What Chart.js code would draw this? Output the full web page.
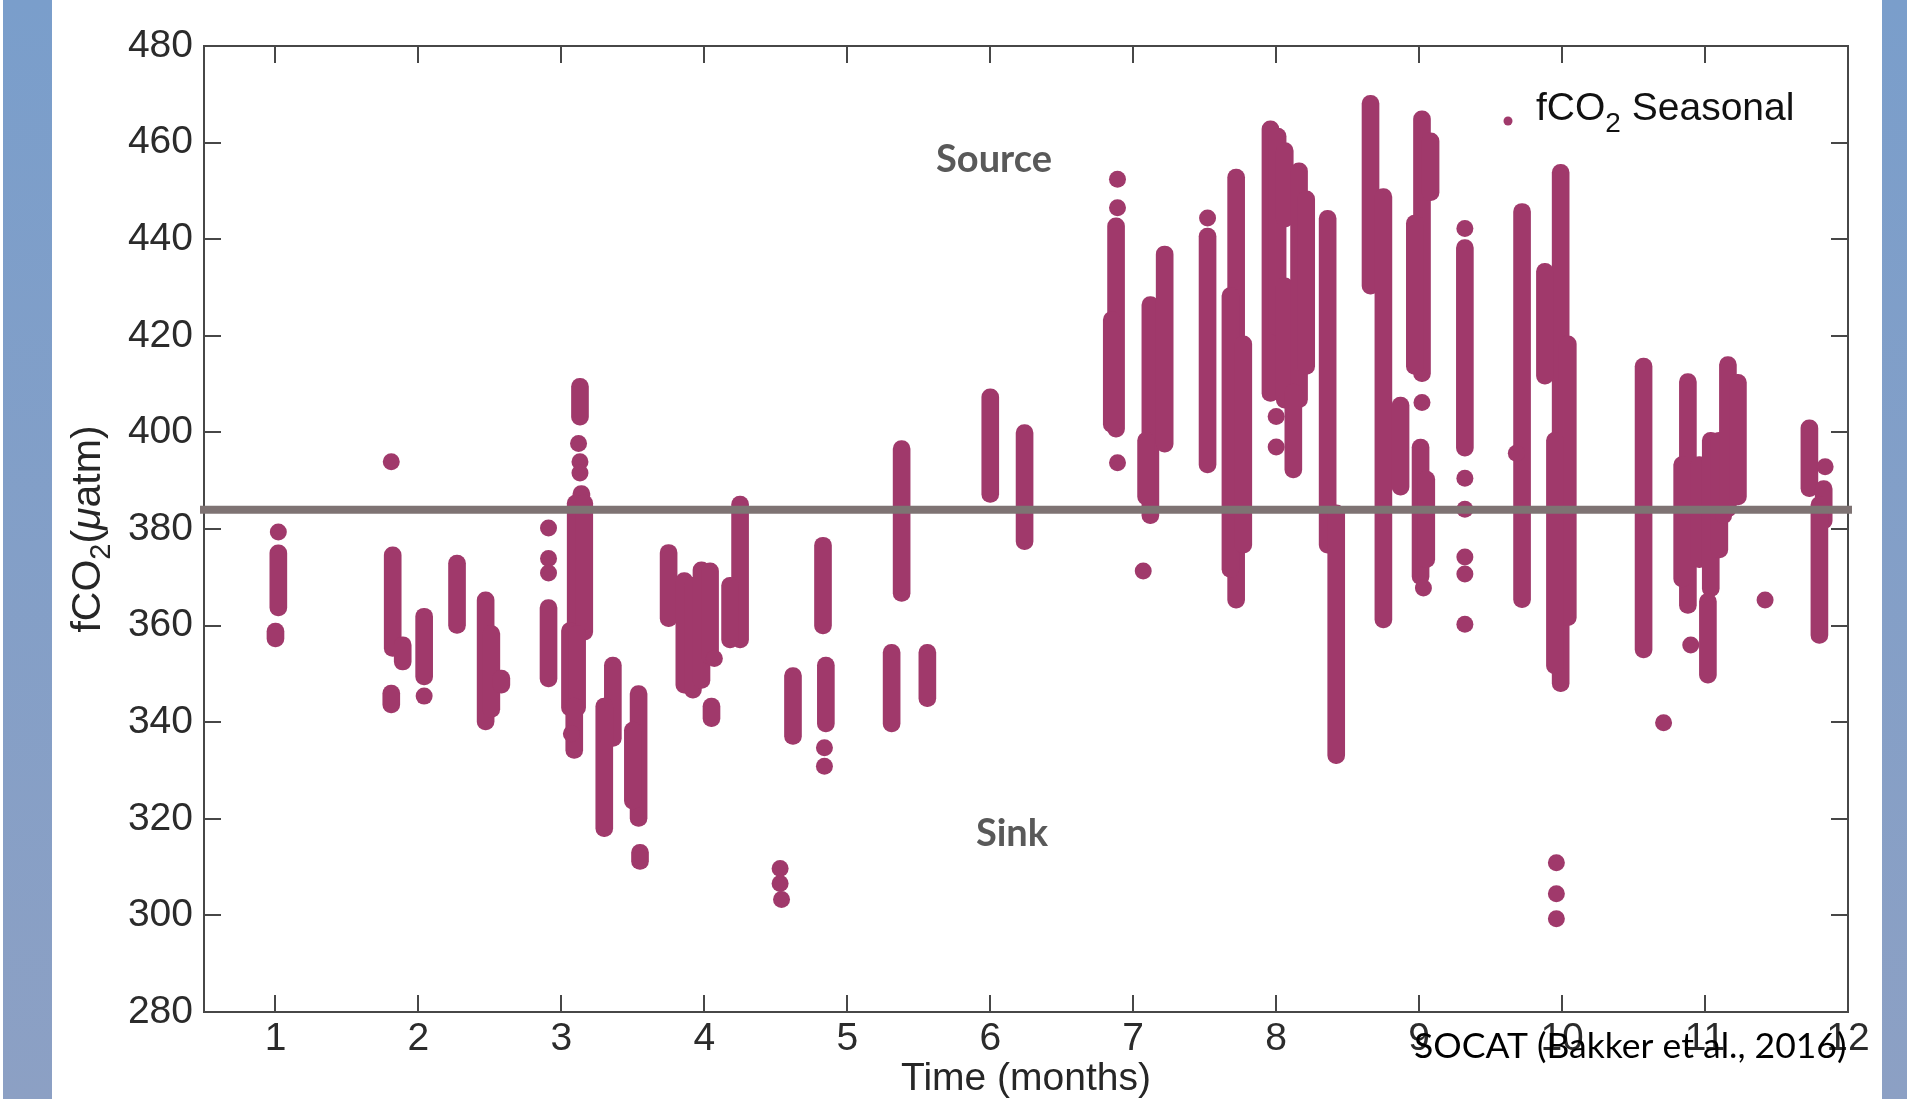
<!DOCTYPE html>
<html>
<head>
<meta charset="utf-8">
<script src="https://cdn.jsdelivr.net/npm/chart.js@4.4.1/dist/chart.umd.min.js"></script>
<style>
  html, body { margin: 0; padding: 0; background: #fff; }
  .wrap { position: relative; width: 1907px; height: 1099px; overflow: hidden; }
  .band { position: absolute; top: 0; height: 1099px; background: linear-gradient(#7a9ecb, #8ca0c4); }
  .band.left { left: 3px; width: 49px; }
  .band.right { left: 1882px; width: 25px; }
  canvas { position: absolute; left: 0; top: 0; }
</style>
</head>
<body>
<div class="wrap">
  <div class="band left"></div>
  <div class="band right"></div>
  <canvas id="fco2Chart" width="1907" height="1099"></canvas>
</div>
<script>
window.addEventListener("load", () => {
  // axis ticks
  const monthTicks = [1, 2, 3, 4, 5, 6, 7, 8, 9, 10, 11, 12];
  const fco2Ticks = [280, 300, 320, 340, 360, 380, 400, 420, 440, 460, 480];

  // continuous cruise tracks: [month, lowest fCO2, highest fCO2]
  const cruiseRanges = [
    [1.02, 362.0, 376.7], [1.00, 355.6, 360.5],
    [1.82, 353.6, 376.3], [1.89, 350.8, 357.7], [1.81, 341.9, 347.7],
    [2.04, 347.7, 363.6],
    [2.27, 358.4, 374.6],
    [2.47, 338.4, 367.0], [2.51, 341.0, 360.0], [2.58, 346.0, 350.8],
    [2.91, 347.3, 365.4],
    [3.13, 401.5, 411.2], [3.14, 385.2, 389.0],
    [3.10, 356.0, 387.0], [3.16, 357.0, 387.0],
    [3.06, 341.3, 360.6], [3.11, 341.3, 360.0], [3.09, 332.5, 345.0],
    [3.36, 335.0, 353.5], [3.30, 316.3, 345.0],
    [3.54, 318.4, 347.6], [3.50, 322.0, 340.0], [3.55, 309.5, 314.7],
    [3.75, 359.8, 376.8],
    [3.86, 346.0, 371.0], [3.92, 345.0, 370.0], [3.98, 347.0, 373.2], [4.04, 352.0, 373.0], [4.05, 339.1, 345.0],
    [4.25, 355.4, 386.8], [4.18, 355.4, 370.0],
    [4.62, 335.4, 351.3],
    [4.83, 358.3, 378.3], [4.85, 338.0, 353.5],
    [5.38, 365.0, 398.3], [5.31, 338.0, 356.1],
    [5.56, 343.2, 356.1],
    [6.00, 385.5, 409.0],
    [6.24, 375.7, 401.6],
    [6.88, 399.0, 444.4], [6.85, 400.0, 425.0],
    [7.12, 381.1, 428.1], [7.09, 385.0, 400.0],
    [7.22, 395.9, 438.6],
    [7.52, 391.6, 442.3],
    [7.72, 363.6, 454.5], [7.68, 370.0, 430.0], [7.77, 375.0, 420.0],
    [7.96, 406.4, 464.5], [8.01, 420.0, 463.0], [8.06, 442.5, 460.0], [8.06, 405.0, 432.0],
    [8.16, 405.1, 455.8], [8.12, 390.6, 410.0], [8.21, 412.0, 450.0],
    [8.36, 375.0, 446.0], [8.42, 331.4, 385.0],
    [8.66, 428.6, 469.8],
    [8.75, 359.5, 450.5],
    [8.87, 387.0, 407.3],
    [9.02, 410.5, 466.6], [9.08, 448.0, 462.0], [8.97, 412.0, 445.0], [9.01, 368.5, 398.6], [9.05, 372.0, 392.0],
    [9.32, 395.1, 439.9],
    [9.72, 363.7, 447.4],
    [9.99, 346.3, 455.5], [9.88, 410.0, 435.0], [10.04, 360.0, 420.0], [9.95, 350.0, 400.0],
    [10.57, 353.3, 415.4],
    [10.88, 362.5, 412.2], [10.84, 368.0, 395.0], [10.96, 372.0, 395.0],
    [11.04, 366.0, 400.0], [11.10, 374.0, 400.0], [11.02, 348.1, 366.7],
    [11.16, 382.5, 415.7], [11.23, 385.0, 412.0],
    [11.73, 386.7, 402.6], [11.83, 380.0, 390.0], [11.80, 356.3, 386.7],
  ];

  // isolated observations: [month, fCO2]
  const singleObs = [
    [1.02, 379.4], [1.81, 393.9], [2.04, 345.4],
    [2.91, 380.2], [2.91, 373.9], [2.91, 370.9],
    [3.12, 397.7], [3.13, 393.9], [3.13, 391.6], [3.07, 337.6],
    [4.07, 353.2],
    [4.53, 309.7], [4.53, 306.6], [4.54, 303.3],
    [4.84, 334.7], [4.84, 330.9],
    [6.89, 452.4], [6.89, 446.5], [6.89, 393.7],
    [7.07, 371.3],
    [7.52, 444.4],
    [8.00, 403.3], [8.00, 397.0],
    [9.02, 406.2], [9.03, 367.8],
    [9.32, 442.2], [9.32, 390.5], [9.32, 384.1], [9.32, 374.2], [9.32, 370.7], [9.32, 360.3],
    [9.68, 395.7],
    [9.96, 310.9], [9.96, 304.5], [9.96, 299.3],
    [10.71, 339.9],
    [10.90, 356.0], [11.13, 382.8],
    [11.42, 365.3],
    [11.84, 392.9],
  ];

  // atmospheric level separating source from sink
  const neutralLevel = 384;
  const monthRange = [0.5, 12];

  const PINK = "#a0396b";
  const SANS = "'Liberation Sans', Arial, sans-serif";
  const CALI = "Lato, 'Open Sans', sans-serif";
  const tickFont = { family: SANS, size: 39 };

  // box around the plot with inward tick marks
  const frame = {
    id: "frame",
    beforeDatasetsDraw(chart) {
      const { ctx, chartArea: a, scales: { x, y } } = chart;
      ctx.save();
      ctx.strokeStyle = "#474747";
      ctx.lineWidth = 2;
      ctx.strokeRect(a.left, a.top, a.right - a.left, a.bottom - a.top);
      ctx.beginPath();
      monthTicks.forEach((m) => {
        const px = Math.round(x.getPixelForValue(m));
        ctx.moveTo(px, a.bottom); ctx.lineTo(px, a.bottom - 17);
        ctx.moveTo(px, a.top); ctx.lineTo(px, a.top + 17);
      });
      fco2Ticks.forEach((v) => {
        const py = Math.round(y.getPixelForValue(v));
        ctx.moveTo(a.left, py); ctx.lineTo(a.left + 17, py);
        ctx.moveTo(a.right, py); ctx.lineTo(a.right - 17, py);
      });
      ctx.stroke();
      ctx.restore();
    },
  };

  // draws a run of text pieces, pieces may be lowered (subscript) or italic
  function drawRuns(ctx, runs, x, y) {
    let cx = x;
    runs.forEach((r) => {
      ctx.font = r.font;
      ctx.fillText(r.text, cx, y + (r.dy || 0));
      cx += ctx.measureText(r.text).width;
    });
  }
  function runsWidth(ctx, runs) {
    return runs.reduce((w, r) => { ctx.font = r.font; return w + ctx.measureText(r.text).width; }, 0);
  }

  const notes = {
    id: "notes",
    afterDraw(chart) {
      const { ctx, chartArea: a } = chart;
      ctx.save();
      ctx.textBaseline = "alphabetic";

      // y axis title
      const yTitle = [
        { text: "fCO", font: `41px ${SANS}` },
        { text: "2", font: `29px ${SANS}`, dy: 10 },
        { text: "(", font: `41px ${SANS}` },
        { text: "\u03bc", font: `italic 41px ${SANS}` },
        { text: "atm)", font: `41px ${SANS}` },
      ];
      ctx.fillStyle = "#262626";
      ctx.translate(100, (a.top + a.bottom) / 2);
      ctx.rotate(-Math.PI / 2);
      drawRuns(ctx, yTitle, -runsWidth(ctx, yTitle) / 2, 0);
      ctx.setTransform(1, 0, 0, 1, 0, 0);

      // x axis title
      ctx.font = `39px ${SANS}`;
      ctx.textAlign = "center";
      ctx.fillText("Time (months)", (a.left + a.right) / 2, 1090);

      // legend
      ctx.textAlign = "left";
      ctx.fillStyle = PINK;
      ctx.beginPath();
      ctx.arc(1508, 121, 4.5, 0, Math.PI * 2);
      ctx.fill();
      ctx.fillStyle = "#111";
      drawRuns(ctx, [
        { text: "fCO", font: `39px ${SANS}` },
        { text: "2", font: `28px ${SANS}`, dy: 12 },
        { text: " Seasonal", font: `39px ${SANS}` },
      ], 1536, 120);

      // source / sink labels
      ctx.textAlign = "center";
      ctx.textBaseline = "middle";
      ctx.fillStyle = "#595959";
      ctx.font = `bold 38px ${CALI}`;
      ctx.fillText("Source", 994, 160);
      ctx.fillText("Sink", 1012, 834);

      // data reference
      ctx.textAlign = "left";
      ctx.fillStyle = "#000";
      ctx.font = `35.5px ${CALI}`;
      ctx.fillText("SOCAT (Bakker et al., 2016)", 1414, 1047);
      ctx.restore();
    },
  };

  const ctx = document.getElementById("fco2Chart");

  new Chart(ctx, {
    type: "scatter",
    data: {
      datasets: [
        {
          type: "line",
          data: monthRange.map((m) => ({ x: m, y: neutralLevel })),
          borderColor: "#7e7373",
          borderWidth: 8,
          borderCapStyle: "square",
          pointRadius: 0,
          clip: false,
          order: 0,
        },
        {
          type: "bar",
          data: cruiseRanges.map(([m, lo, hi]) => ({ x: m, y: [lo, hi] })),
          backgroundColor: PINK,
          barThickness: 17,
          borderRadius: 8.5,
          borderSkipped: false,
          order: 2,
        },
        {
          type: "scatter",
          data: singleObs.map(([m, v]) => ({ x: m, y: v })),
          backgroundColor: PINK,
          borderWidth: 0,
          pointRadius: 8.5,
          order: 1,
        },
      ],
    },
    options: {
      responsive: false,
      animation: false,
      events: [],
      layout: { padding: { left: 128, right: 59, top: 46, bottom: 0 } },
      plugins: { legend: { display: false }, tooltip: { enabled: false } },
      scales: {
        x: {
          type: "linear",
          min: monthRange[0],
          max: monthRange[1],
          offset: false,
          grid: { display: false, drawTicks: false },
          border: { display: false },
          ticks: { font: tickFont, color: "#2b2b2b", padding: 4, maxRotation: 0, autoSkip: false },
          afterBuildTicks: (s) => { s.ticks = monthTicks.map((v) => ({ value: v })); },
          afterFit: (s) => { s.height = 87; },
        },
        y: {
          type: "linear",
          min: fco2Ticks[0],
          max: fco2Ticks[fco2Ticks.length - 1],
          beginAtZero: false,
          grid: { display: false, drawTicks: false },
          border: { display: false },
          ticks: { font: tickFont, color: "#2b2b2b", padding: 11 },
          afterBuildTicks: (s) => { s.ticks = fco2Ticks.map((v) => ({ value: v })); },
          afterFit: (s) => { s.width = 76; },
        },
      },
    },
    plugins: [frame, notes],
  });
});
</script>
</body>
</html>
